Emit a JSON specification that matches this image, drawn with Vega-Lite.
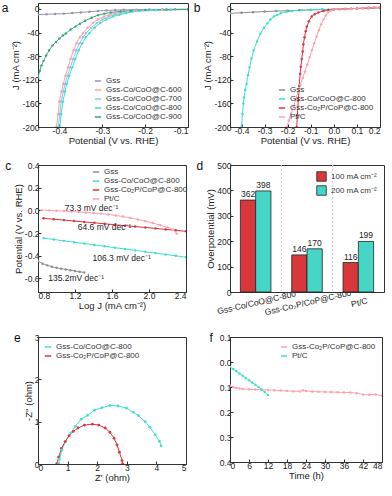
{
 "$schema": "https://vega.github.io/schema/vega-lite/v6.json",
 "padding": {"left": 1, "top": 1, "right": 2, "bottom": 1},
 "background": "white",
 "datasets": {
  "a": [
   {"s":"Gss","x":-0.45,"y":-9.5},{"s":"Gss","x":-0.43,"y":-9},{"s":"Gss","x":-0.41,"y":-8.5},{"s":"Gss","x":-0.39,"y":-8},{"s":"Gss","x":-0.37,"y":-7},{"s":"Gss","x":-0.35,"y":-6},{"s":"Gss","x":-0.33,"y":-4.8},{"s":"Gss","x":-0.31,"y":-3.5},{"s":"Gss","x":-0.29,"y":-2.7},{"s":"Gss","x":-0.27,"y":-2},{"s":"Gss","x":-0.25,"y":-1.6},{"s":"Gss","x":-0.22,"y":-1.2},{"s":"Gss","x":-0.19,"y":-1},{"s":"Gss","x":-0.16,"y":-0.8},{"s":"Gss","x":-0.13,"y":-0.6},{"s":"Gss","x":-0.1,"y":-0.5},
   {"s":"Gss-Co/CoO@C-600","x":-0.407,"y":-200},{"s":"Gss-Co/CoO@C-600","x":-0.403,"y":-178},{"s":"Gss-Co/CoO@C-600","x":-0.4,"y":-157},{"s":"Gss-Co/CoO@C-600","x":-0.395,"y":-140},{"s":"Gss-Co/CoO@C-600","x":-0.391,"y":-127},{"s":"Gss-Co/CoO@C-600","x":-0.386,"y":-113},{"s":"Gss-Co/CoO@C-600","x":-0.38,"y":-99},{"s":"Gss-Co/CoO@C-600","x":-0.374,"y":-85},{"s":"Gss-Co/CoO@C-600","x":-0.367,"y":-70},{"s":"Gss-Co/CoO@C-600","x":-0.36,"y":-58},{"s":"Gss-Co/CoO@C-600","x":-0.352,"y":-48},{"s":"Gss-Co/CoO@C-600","x":-0.345,"y":-41},{"s":"Gss-Co/CoO@C-600","x":-0.334,"y":-32},{"s":"Gss-Co/CoO@C-600","x":-0.322,"y":-24},{"s":"Gss-Co/CoO@C-600","x":-0.31,"y":-18},{"s":"Gss-Co/CoO@C-600","x":-0.296,"y":-13},{"s":"Gss-Co/CoO@C-600","x":-0.283,"y":-10},{"s":"Gss-Co/CoO@C-600","x":-0.27,"y":-7.4},{"s":"Gss-Co/CoO@C-600","x":-0.255,"y":-5},{"s":"Gss-Co/CoO@C-600","x":-0.24,"y":-3.5},{"s":"Gss-Co/CoO@C-600","x":-0.22,"y":-2.5},{"s":"Gss-Co/CoO@C-600","x":-0.2,"y":-2},{"s":"Gss-Co/CoO@C-600","x":-0.16,"y":-1.5},{"s":"Gss-Co/CoO@C-600","x":-0.1,"y":-1},
   {"s":"Gss-Co/CoO@C-700","x":-0.403,"y":-200},{"s":"Gss-Co/CoO@C-700","x":-0.399,"y":-178},{"s":"Gss-Co/CoO@C-700","x":-0.396,"y":-157},{"s":"Gss-Co/CoO@C-700","x":-0.391,"y":-140},{"s":"Gss-Co/CoO@C-700","x":-0.387,"y":-127},{"s":"Gss-Co/CoO@C-700","x":-0.381,"y":-113},{"s":"Gss-Co/CoO@C-700","x":-0.375,"y":-99},{"s":"Gss-Co/CoO@C-700","x":-0.368,"y":-85},{"s":"Gss-Co/CoO@C-700","x":-0.361,"y":-70},{"s":"Gss-Co/CoO@C-700","x":-0.353,"y":-58},{"s":"Gss-Co/CoO@C-700","x":-0.345,"y":-48},{"s":"Gss-Co/CoO@C-700","x":-0.338,"y":-41},{"s":"Gss-Co/CoO@C-700","x":-0.326,"y":-32},{"s":"Gss-Co/CoO@C-700","x":-0.313,"y":-24},{"s":"Gss-Co/CoO@C-700","x":-0.3,"y":-18},{"s":"Gss-Co/CoO@C-700","x":-0.285,"y":-13},{"s":"Gss-Co/CoO@C-700","x":-0.271,"y":-10},{"s":"Gss-Co/CoO@C-700","x":-0.257,"y":-7.4},{"s":"Gss-Co/CoO@C-700","x":-0.242,"y":-5},{"s":"Gss-Co/CoO@C-700","x":-0.226,"y":-3.5},{"s":"Gss-Co/CoO@C-700","x":-0.205,"y":-2.5},{"s":"Gss-Co/CoO@C-700","x":-0.185,"y":-2},{"s":"Gss-Co/CoO@C-700","x":-0.15,"y":-1.5},{"s":"Gss-Co/CoO@C-700","x":-0.1,"y":-1},
   {"s":"Gss-Co/CoO@C-800","x":-0.399,"y":-200},{"s":"Gss-Co/CoO@C-800","x":-0.396,"y":-178},{"s":"Gss-Co/CoO@C-800","x":-0.392,"y":-157},{"s":"Gss-Co/CoO@C-800","x":-0.387,"y":-140},{"s":"Gss-Co/CoO@C-800","x":-0.383,"y":-127},{"s":"Gss-Co/CoO@C-800","x":-0.377,"y":-113},{"s":"Gss-Co/CoO@C-800","x":-0.37,"y":-99},{"s":"Gss-Co/CoO@C-800","x":-0.363,"y":-85},{"s":"Gss-Co/CoO@C-800","x":-0.355,"y":-70},{"s":"Gss-Co/CoO@C-800","x":-0.347,"y":-58},{"s":"Gss-Co/CoO@C-800","x":-0.338,"y":-48},{"s":"Gss-Co/CoO@C-800","x":-0.33,"y":-41},{"s":"Gss-Co/CoO@C-800","x":-0.318,"y":-32},{"s":"Gss-Co/CoO@C-800","x":-0.305,"y":-24},{"s":"Gss-Co/CoO@C-800","x":-0.291,"y":-18},{"s":"Gss-Co/CoO@C-800","x":-0.275,"y":-13},{"s":"Gss-Co/CoO@C-800","x":-0.26,"y":-10},{"s":"Gss-Co/CoO@C-800","x":-0.245,"y":-7.4},{"s":"Gss-Co/CoO@C-800","x":-0.23,"y":-5},{"s":"Gss-Co/CoO@C-800","x":-0.213,"y":-3.5},{"s":"Gss-Co/CoO@C-800","x":-0.195,"y":-2.5},{"s":"Gss-Co/CoO@C-800","x":-0.175,"y":-2},{"s":"Gss-Co/CoO@C-800","x":-0.14,"y":-1.5},{"s":"Gss-Co/CoO@C-800","x":-0.1,"y":-1},
   {"s":"Gss-Co/CoO@C-900","x":-0.45,"y":-116},{"s":"Gss-Co/CoO@C-900","x":-0.446,"y":-105},{"s":"Gss-Co/CoO@C-900","x":-0.442,"y":-96},{"s":"Gss-Co/CoO@C-900","x":-0.437,"y":-88},{"s":"Gss-Co/CoO@C-900","x":-0.431,"y":-79},{"s":"Gss-Co/CoO@C-900","x":-0.424,"y":-70},{"s":"Gss-Co/CoO@C-900","x":-0.416,"y":-62},{"s":"Gss-Co/CoO@C-900","x":-0.408,"y":-56},{"s":"Gss-Co/CoO@C-900","x":-0.4,"y":-50},{"s":"Gss-Co/CoO@C-900","x":-0.392,"y":-45},{"s":"Gss-Co/CoO@C-900","x":-0.385,"y":-41.5},{"s":"Gss-Co/CoO@C-900","x":-0.374,"y":-35},{"s":"Gss-Co/CoO@C-900","x":-0.363,"y":-30},{"s":"Gss-Co/CoO@C-900","x":-0.352,"y":-25},{"s":"Gss-Co/CoO@C-900","x":-0.34,"y":-20},{"s":"Gss-Co/CoO@C-900","x":-0.325,"y":-15},{"s":"Gss-Co/CoO@C-900","x":-0.31,"y":-10.5},{"s":"Gss-Co/CoO@C-900","x":-0.295,"y":-8},{"s":"Gss-Co/CoO@C-900","x":-0.28,"y":-6},{"s":"Gss-Co/CoO@C-900","x":-0.257,"y":-4},{"s":"Gss-Co/CoO@C-900","x":-0.234,"y":-3},{"s":"Gss-Co/CoO@C-900","x":-0.2,"y":-2},{"s":"Gss-Co/CoO@C-900","x":-0.15,"y":-1.2},{"s":"Gss-Co/CoO@C-900","x":-0.1,"y":-0.8}
  ],
  "b": [
   {"s":"Gss","x":-0.45,"y":-7.5},{"s":"Gss","x":-0.4,"y":-6.5},{"s":"Gss","x":-0.35,"y":-5.5},{"s":"Gss","x":-0.3,"y":-4.5},{"s":"Gss","x":-0.25,"y":-3.7},{"s":"Gss","x":-0.2,"y":-3},{"s":"Gss","x":-0.15,"y":-2.3},{"s":"Gss","x":-0.1,"y":-1.7},{"s":"Gss","x":-0.05,"y":-1},{"s":"Gss","x":0,"y":-0.5},{"s":"Gss","x":0.05,"y":0},{"s":"Gss","x":0.1,"y":0.5},{"s":"Gss","x":0.15,"y":1},{"s":"Gss","x":0.2,"y":1.5},
   {"s":"Gss-Co/CoO@C-800","x":-0.4,"y":-200},{"s":"Gss-Co/CoO@C-800","x":-0.396,"y":-178},{"s":"Gss-Co/CoO@C-800","x":-0.392,"y":-160},{"s":"Gss-Co/CoO@C-800","x":-0.389,"y":-150},{"s":"Gss-Co/CoO@C-800","x":-0.384,"y":-137},{"s":"Gss-Co/CoO@C-800","x":-0.378,"y":-127},{"s":"Gss-Co/CoO@C-800","x":-0.372,"y":-112},{"s":"Gss-Co/CoO@C-800","x":-0.365,"y":-99},{"s":"Gss-Co/CoO@C-800","x":-0.357,"y":-84},{"s":"Gss-Co/CoO@C-800","x":-0.347,"y":-70},{"s":"Gss-Co/CoO@C-800","x":-0.333,"y":-55},{"s":"Gss-Co/CoO@C-800","x":-0.318,"y":-42},{"s":"Gss-Co/CoO@C-800","x":-0.303,"y":-32},{"s":"Gss-Co/CoO@C-800","x":-0.289,"y":-24.5},{"s":"Gss-Co/CoO@C-800","x":-0.275,"y":-18},{"s":"Gss-Co/CoO@C-800","x":-0.26,"y":-13},{"s":"Gss-Co/CoO@C-800","x":-0.245,"y":-10},{"s":"Gss-Co/CoO@C-800","x":-0.23,"y":-7.4},{"s":"Gss-Co/CoO@C-800","x":-0.205,"y":-5},{"s":"Gss-Co/CoO@C-800","x":-0.18,"y":-3.4},{"s":"Gss-Co/CoO@C-800","x":-0.14,"y":-2},{"s":"Gss-Co/CoO@C-800","x":-0.1,"y":-1.5},{"s":"Gss-Co/CoO@C-800","x":-0.05,"y":-1},{"s":"Gss-Co/CoO@C-800","x":0,"y":-0.5},
   {"s":"Gss-Co₂P/CoP@C-800","x":-0.161,"y":-200},{"s":"Gss-Co₂P/CoP@C-800","x":-0.158,"y":-180},{"s":"Gss-Co₂P/CoP@C-800","x":-0.154,"y":-155},{"s":"Gss-Co₂P/CoP@C-800","x":-0.15,"y":-130},{"s":"Gss-Co₂P/CoP@C-800","x":-0.146,"y":-110},{"s":"Gss-Co₂P/CoP@C-800","x":-0.143,"y":-98},{"s":"Gss-Co₂P/CoP@C-800","x":-0.139,"y":-85},{"s":"Gss-Co₂P/CoP@C-800","x":-0.135,"y":-72},{"s":"Gss-Co₂P/CoP@C-800","x":-0.132,"y":-60},{"s":"Gss-Co₂P/CoP@C-800","x":-0.127,"y":-48},{"s":"Gss-Co₂P/CoP@C-800","x":-0.122,"y":-38},{"s":"Gss-Co₂P/CoP@C-800","x":-0.117,"y":-30},{"s":"Gss-Co₂P/CoP@C-800","x":-0.108,"y":-21},{"s":"Gss-Co₂P/CoP@C-800","x":-0.096,"y":-13},{"s":"Gss-Co₂P/CoP@C-800","x":-0.083,"y":-9},{"s":"Gss-Co₂P/CoP@C-800","x":-0.067,"y":-6},{"s":"Gss-Co₂P/CoP@C-800","x":-0.045,"y":-3.5},{"s":"Gss-Co₂P/CoP@C-800","x":-0.023,"y":-2},{"s":"Gss-Co₂P/CoP@C-800","x":0,"y":-1},{"s":"Gss-Co₂P/CoP@C-800","x":0.025,"y":-0.4},{"s":"Gss-Co₂P/CoP@C-800","x":0.05,"y":0},{"s":"Gss-Co₂P/CoP@C-800","x":0.075,"y":0.4},{"s":"Gss-Co₂P/CoP@C-800","x":0.1,"y":0.8},{"s":"Gss-Co₂P/CoP@C-800","x":0.125,"y":1.3},{"s":"Gss-Co₂P/CoP@C-800","x":0.15,"y":1.8},{"s":"Gss-Co₂P/CoP@C-800","x":0.175,"y":2.4},{"s":"Gss-Co₂P/CoP@C-800","x":0.2,"y":3},
   {"s":"Pt/C","x":-0.204,"y":-200},{"s":"Pt/C","x":-0.195,"y":-189},{"s":"Pt/C","x":-0.185,"y":-177},{"s":"Pt/C","x":-0.175,"y":-165},{"s":"Pt/C","x":-0.165,"y":-153},{"s":"Pt/C","x":-0.155,"y":-141},{"s":"Pt/C","x":-0.145,"y":-129},{"s":"Pt/C","x":-0.135,"y":-117},{"s":"Pt/C","x":-0.125,"y":-106},{"s":"Pt/C","x":-0.115,"y":-94},{"s":"Pt/C","x":-0.105,"y":-82},{"s":"Pt/C","x":-0.095,"y":-70},{"s":"Pt/C","x":-0.085,"y":-58},{"s":"Pt/C","x":-0.075,"y":-47},{"s":"Pt/C","x":-0.065,"y":-36},{"s":"Pt/C","x":-0.055,"y":-26},{"s":"Pt/C","x":-0.045,"y":-18},{"s":"Pt/C","x":-0.035,"y":-11},{"s":"Pt/C","x":-0.025,"y":-6},{"s":"Pt/C","x":-0.015,"y":-3},{"s":"Pt/C","x":0,"y":-1},{"s":"Pt/C","x":0.025,"y":-0.3},{"s":"Pt/C","x":0.05,"y":0},{"s":"Pt/C","x":0.075,"y":0.4},{"s":"Pt/C","x":0.1,"y":0.8},{"s":"Pt/C","x":0.125,"y":1.3},{"s":"Pt/C","x":0.15,"y":1.8},{"s":"Pt/C","x":0.175,"y":2.3},{"s":"Pt/C","x":0.2,"y":2.8}
  ],
  "c": [
   {"s":"Gss","x":0.8,"y":-0.447},{"s":"Gss","x":0.85,"y":-0.47},{"s":"Gss","x":0.9,"y":-0.485},{"s":"Gss","x":0.95,"y":-0.497},{"s":"Gss","x":1.0,"y":-0.506},{"s":"Gss","x":1.05,"y":-0.514},{"s":"Gss","x":1.1,"y":-0.521},{"s":"Gss","x":1.15,"y":-0.528},{"s":"Gss","x":1.2,"y":-0.535},{"s":"Gss","x":1.25,"y":-0.542},{"s":"Gss","x":1.3,"y":-0.548},
   {"s":"Gss-Co/CoO@C-800","x":0.86,"y":-0.245},{"s":"Gss-Co/CoO@C-800","x":0.97,"y":-0.257},{"s":"Gss-Co/CoO@C-800","x":1.08,"y":-0.269},{"s":"Gss-Co/CoO@C-800","x":1.19,"y":-0.281},{"s":"Gss-Co/CoO@C-800","x":1.3,"y":-0.293},{"s":"Gss-Co/CoO@C-800","x":1.41,"y":-0.305},{"s":"Gss-Co/CoO@C-800","x":1.52,"y":-0.317},{"s":"Gss-Co/CoO@C-800","x":1.63,"y":-0.329},{"s":"Gss-Co/CoO@C-800","x":1.74,"y":-0.341},{"s":"Gss-Co/CoO@C-800","x":1.85,"y":-0.353},{"s":"Gss-Co/CoO@C-800","x":1.96,"y":-0.365},{"s":"Gss-Co/CoO@C-800","x":2.07,"y":-0.377},{"s":"Gss-Co/CoO@C-800","x":2.18,"y":-0.389},{"s":"Gss-Co/CoO@C-800","x":2.29,"y":-0.401},{"s":"Gss-Co/CoO@C-800","x":2.4,"y":-0.413},
   {"s":"Gss-Co₂P/CoP@C-800","x":0.86,"y":-0.07},{"s":"Gss-Co₂P/CoP@C-800","x":0.97,"y":-0.078},{"s":"Gss-Co₂P/CoP@C-800","x":1.08,"y":-0.086},{"s":"Gss-Co₂P/CoP@C-800","x":1.19,"y":-0.094},{"s":"Gss-Co₂P/CoP@C-800","x":1.3,"y":-0.102},{"s":"Gss-Co₂P/CoP@C-800","x":1.41,"y":-0.11},{"s":"Gss-Co₂P/CoP@C-800","x":1.52,"y":-0.118},{"s":"Gss-Co₂P/CoP@C-800","x":1.63,"y":-0.127},{"s":"Gss-Co₂P/CoP@C-800","x":1.74,"y":-0.135},{"s":"Gss-Co₂P/CoP@C-800","x":1.85,"y":-0.143},{"s":"Gss-Co₂P/CoP@C-800","x":1.96,"y":-0.151},{"s":"Gss-Co₂P/CoP@C-800","x":2.07,"y":-0.159},{"s":"Gss-Co₂P/CoP@C-800","x":2.18,"y":-0.168},{"s":"Gss-Co₂P/CoP@C-800","x":2.29,"y":-0.176},{"s":"Gss-Co₂P/CoP@C-800","x":2.4,"y":-0.185},
   {"s":"Pt/C","x":0.84,"y":0.002},{"s":"Pt/C","x":0.92,"y":0.0},{"s":"Pt/C","x":1.0,"y":-0.003},{"s":"Pt/C","x":1.08,"y":-0.006},{"s":"Pt/C","x":1.16,"y":-0.01},{"s":"Pt/C","x":1.24,"y":-0.014},{"s":"Pt/C","x":1.32,"y":-0.018},{"s":"Pt/C","x":1.4,"y":-0.023},{"s":"Pt/C","x":1.48,"y":-0.029},{"s":"Pt/C","x":1.56,"y":-0.036},{"s":"Pt/C","x":1.64,"y":-0.045},{"s":"Pt/C","x":1.72,"y":-0.055},{"s":"Pt/C","x":1.8,"y":-0.067},{"s":"Pt/C","x":1.88,"y":-0.08},{"s":"Pt/C","x":1.96,"y":-0.095},{"s":"Pt/C","x":2.04,"y":-0.112},{"s":"Pt/C","x":2.12,"y":-0.13},{"s":"Pt/C","x":2.2,"y":-0.15},{"s":"Pt/C","x":2.26,"y":-0.17},{"s":"Pt/C","x":2.3,"y":-0.205}
  ],
  "cAnn": [
   {"x":1.09,"y":0.02,"t":"73.3 mV dec⁻¹"},
   {"x":1.23,"y":-0.15,"t":"64.6 mV dec⁻¹"},
   {"x":1.39,"y":-0.42,"t":"106.3 mV dec⁻¹"},
   {"x":0.91,"y":-0.595,"t":"135.2mV dec⁻¹"}
  ],
  "d": [
   {"cat":"Gss-Co/CoO@C-800","j":"100 mA cm⁻²","v":362},
   {"cat":"Gss-Co/CoO@C-800","j":"200 mA cm⁻²","v":398},
   {"cat":"Gss-Co₂P/CoP@C-800","j":"100 mA cm⁻²","v":146},
   {"cat":"Gss-Co₂P/CoP@C-800","j":"200 mA cm⁻²","v":170},
   {"cat":"Pt/C","j":"100 mA cm⁻²","v":116},
   {"cat":"Pt/C","j":"200 mA cm⁻²","v":199}
  ],
  "dSep": [{"cat":"Gss-Co₂P/CoP@C-800"},{"cat":"Pt/C"}],
  "e": [
   {"s":"Gss-Co/CoO@C-800","x":0.7,"y":0},{"s":"Gss-Co/CoO@C-800","x":0.72,"y":0.12},{"s":"Gss-Co/CoO@C-800","x":0.81,"y":0.33},{"s":"Gss-Co/CoO@C-800","x":0.92,"y":0.53},{"s":"Gss-Co/CoO@C-800","x":1.11,"y":0.73},{"s":"Gss-Co/CoO@C-800","x":1.26,"y":0.89},{"s":"Gss-Co/CoO@C-800","x":1.46,"y":1.06},{"s":"Gss-Co/CoO@C-800","x":1.67,"y":1.15},{"s":"Gss-Co/CoO@C-800","x":1.91,"y":1.27},{"s":"Gss-Co/CoO@C-800","x":2.16,"y":1.33},{"s":"Gss-Co/CoO@C-800","x":2.43,"y":1.38},{"s":"Gss-Co/CoO@C-800","x":2.7,"y":1.37},{"s":"Gss-Co/CoO@C-800","x":2.99,"y":1.32},{"s":"Gss-Co/CoO@C-800","x":3.22,"y":1.22},{"s":"Gss-Co/CoO@C-800","x":3.4,"y":1.14},{"s":"Gss-Co/CoO@C-800","x":3.62,"y":1.0},{"s":"Gss-Co/CoO@C-800","x":3.78,"y":0.87},{"s":"Gss-Co/CoO@C-800","x":3.96,"y":0.69},{"s":"Gss-Co/CoO@C-800","x":4.1,"y":0.54},{"s":"Gss-Co/CoO@C-800","x":4.16,"y":0.43},
   {"s":"Gss-Co₂P/CoP@C-800","x":0.63,"y":0},{"s":"Gss-Co₂P/CoP@C-800","x":0.7,"y":0.16},{"s":"Gss-Co₂P/CoP@C-800","x":0.79,"y":0.37},{"s":"Gss-Co₂P/CoP@C-800","x":0.92,"y":0.53},{"s":"Gss-Co₂P/CoP@C-800","x":1.05,"y":0.67},{"s":"Gss-Co₂P/CoP@C-800","x":1.19,"y":0.77},{"s":"Gss-Co₂P/CoP@C-800","x":1.35,"y":0.85},{"s":"Gss-Co₂P/CoP@C-800","x":1.57,"y":0.92},{"s":"Gss-Co₂P/CoP@C-800","x":1.84,"y":0.94},{"s":"Gss-Co₂P/CoP@C-800","x":2.05,"y":0.92},{"s":"Gss-Co₂P/CoP@C-800","x":2.27,"y":0.85},{"s":"Gss-Co₂P/CoP@C-800","x":2.43,"y":0.75},{"s":"Gss-Co₂P/CoP@C-800","x":2.57,"y":0.61},{"s":"Gss-Co₂P/CoP@C-800","x":2.67,"y":0.45},{"s":"Gss-Co₂P/CoP@C-800","x":2.75,"y":0.28},{"s":"Gss-Co₂P/CoP@C-800","x":2.84,"y":0.08},{"s":"Gss-Co₂P/CoP@C-800","x":2.86,"y":0}
  ],
  "f": [
   {"s":"Gss-Co₂P/CoP@C-800","x":0,"y":0.095},{"s":"Gss-Co₂P/CoP@C-800","x":1,"y":0.1},{"s":"Gss-Co₂P/CoP@C-800","x":2,"y":0.104},{"s":"Gss-Co₂P/CoP@C-800","x":3,"y":0.106},{"s":"Gss-Co₂P/CoP@C-800","x":4,"y":0.108},{"s":"Gss-Co₂P/CoP@C-800","x":6,"y":0.109},{"s":"Gss-Co₂P/CoP@C-800","x":8,"y":0.11},{"s":"Gss-Co₂P/CoP@C-800","x":10,"y":0.111},{"s":"Gss-Co₂P/CoP@C-800","x":12,"y":0.112},{"s":"Gss-Co₂P/CoP@C-800","x":14,"y":0.113},{"s":"Gss-Co₂P/CoP@C-800","x":16,"y":0.114},{"s":"Gss-Co₂P/CoP@C-800","x":18,"y":0.116},{"s":"Gss-Co₂P/CoP@C-800","x":20,"y":0.117},{"s":"Gss-Co₂P/CoP@C-800","x":22,"y":0.118},{"s":"Gss-Co₂P/CoP@C-800","x":23,"y":0.113},{"s":"Gss-Co₂P/CoP@C-800","x":24,"y":0.116},{"s":"Gss-Co₂P/CoP@C-800","x":26,"y":0.118},{"s":"Gss-Co₂P/CoP@C-800","x":28,"y":0.119},{"s":"Gss-Co₂P/CoP@C-800","x":30,"y":0.12},{"s":"Gss-Co₂P/CoP@C-800","x":32,"y":0.12},{"s":"Gss-Co₂P/CoP@C-800","x":34,"y":0.121},{"s":"Gss-Co₂P/CoP@C-800","x":36,"y":0.122},{"s":"Gss-Co₂P/CoP@C-800","x":38,"y":0.122},{"s":"Gss-Co₂P/CoP@C-800","x":40,"y":0.125},{"s":"Gss-Co₂P/CoP@C-800","x":42,"y":0.13},{"s":"Gss-Co₂P/CoP@C-800","x":44,"y":0.131},{"s":"Gss-Co₂P/CoP@C-800","x":46,"y":0.13},{"s":"Gss-Co₂P/CoP@C-800","x":48,"y":0.135},
   {"s":"Pt/C","x":0,"y":0.02},{"s":"Pt/C","x":1,"y":0.028},{"s":"Pt/C","x":2,"y":0.037},{"s":"Pt/C","x":3,"y":0.046},{"s":"Pt/C","x":4,"y":0.055},{"s":"Pt/C","x":5,"y":0.064},{"s":"Pt/C","x":6,"y":0.073},{"s":"Pt/C","x":7,"y":0.082},{"s":"Pt/C","x":8,"y":0.091},{"s":"Pt/C","x":9,"y":0.1},{"s":"Pt/C","x":10,"y":0.11},{"s":"Pt/C","x":11,"y":0.12},{"s":"Pt/C","x":12,"y":0.132}
  ]
 },
 "spacing": 14,
 "align": "none",
 "resolve": {"scale": {"color": "independent", "x": "independent", "y": "independent"}, "legend": {"color": "independent"}},
 "vconcat": [
  {"vconcat": [
  {"hconcat": [
   {"width": 150, "height": 124, "title": {"text": "a"},
    "data": {"name": "a"},
    "mark": {"type": "line", "strokeWidth": 1, "clip": true, "point": {"filled": true, "size": 6}},
    "encoding": {
     "x": {"field": "x", "type": "quantitative", "scale": {"domain": [-0.45, -0.1], "nice": false}, "axis": {"title": "Potential (V vs. RHE)", "values": [-0.4,-0.3,-0.2,-0.1], "format": ".1f"}},
     "y": {"field": "y", "type": "quantitative", "scale": {"domain": [-200, 10], "nice": false}, "axis": {"title": "J (mA cm⁻²)", "values": [0,-40,-80,-120,-160,-200]}},
     "color": {"field": "s", "type": "nominal", "scale": {"domain": ["Gss","Gss-Co/CoO@C-600","Gss-Co/CoO@C-700","Gss-Co/CoO@C-800","Gss-Co/CoO@C-900"], "range": ["#9a94ad","#ff9ea6","#8cc6ee","#3fe0cc","#3aa87c"]}, "legend": {"title": null, "orient": "bottom-right", "symbolType": "stroke"}}
    }},
   {"width": 150, "height": 124, "title": {"text": "b"},
    "data": {"name": "b"},
    "mark": {"type": "line", "strokeWidth": 1, "clip": true, "point": {"filled": true, "size": 6}},
    "encoding": {
     "x": {"field": "x", "type": "quantitative", "scale": {"domain": [-0.45, 0.2], "nice": false}, "axis": {"title": "Potential (V vs. RHE)", "values": [-0.4,-0.3,-0.2,-0.1,0,0.1,0.2], "format": ".1f"}},
     "y": {"field": "y", "type": "quantitative", "scale": {"domain": [-200, 10], "nice": false}, "axis": {"title": "J (mA cm⁻²)", "values": [0,-40,-80,-120,-160,-200]}},
     "color": {"field": "s", "type": "nominal", "scale": {"domain": ["Gss","Gss-Co/CoO@C-800","Gss-Co₂P/CoP@C-800","Pt/C"], "range": ["#8e8e8e","#3fe0cc","#e0333d","#ffa0b0"]}, "legend": {"title": null, "orient": "bottom-right", "symbolType": "stroke"}}
    }}
  ], "spacing": 4, "align": "none",
  "resolve": {"scale": {"color": "independent", "x": "independent", "y": "independent"}, "legend": {"color": "independent"}}},
  {"hconcat": [
   {"width": 148, "height": 127, "title": {"text": "c"},
    "layer": [
     {"data": {"name": "c"},
      "mark": {"type": "line", "strokeWidth": 1, "clip": true, "point": {"filled": true, "size": 6}},
      "encoding": {
       "x": {"field": "x", "type": "quantitative", "scale": {"domain": [0.8, 2.4], "nice": false}, "axis": {"title": "Log J (mA cm⁻²)", "values": [0.8,1.2,1.6,2.0,2.4], "format": ".1f", "labelOverlap": false}},
       "y": {"field": "y", "type": "quantitative", "scale": {"domain": [-0.72, 0.4], "nice": false}, "axis": {"title": "Potential (V vs. RHE)", "values": [-0.6,-0.4,-0.2,0,0.2,0.4], "format": ".1f", "labelOverlap": false}},
       "color": {"field": "s", "type": "nominal", "scale": {"domain": ["Gss","Gss-Co/CoO@C-800","Gss-Co₂P/CoP@C-800","Pt/C"], "range": ["#8e8e8e","#3fe0cc","#e0333d","#ffa0b0"]}, "legend": {"title": null, "orient": "none", "legendX": 52, "legendY": 1, "symbolType": "stroke"}}
      }},
     {"data": {"name": "cAnn"},
      "mark": {"type": "text", "align": "left", "baseline": "middle", "fontSize": 8.5, "color": "#222"},
      "encoding": {
       "x": {"field": "x", "type": "quantitative", "scale": {"domain": [0.8, 2.4], "nice": false}, "axis": {"title": "Log J (mA cm⁻²)", "values": [0.8,1.2,1.6,2.0,2.4], "format": ".1f", "labelOverlap": false}},
       "y": {"field": "y", "type": "quantitative", "scale": {"domain": [-0.72, 0.4], "nice": false}, "axis": {"title": "Potential (V vs. RHE)", "values": [-0.6,-0.4,-0.2,0,0.2,0.4], "format": ".1f", "labelOverlap": false}},
       "text": {"field": "t", "type": "nominal"}
      }}
    ]},
   {"width": 154, "height": 127, "title": {"text": "d"},
    "layer": [
     {"data": {"name": "dSep"},
      "mark": {"type": "rule", "strokeDash": [2, 2], "color": "#c5cde0", "strokeWidth": 1},
      "encoding": {
       "x": {"field": "cat", "type": "nominal", "bandPosition": 0}
      }},
     {"data": {"name": "d"},
      "mark": {"type": "bar", "stroke": "#222", "strokeWidth": 0.8},
      "encoding": {
       "x": {"field": "cat", "type": "nominal", "sort": null, "scale": {"domain": ["Gss-Co/CoO@C-800","Gss-Co₂P/CoP@C-800","Pt/C"], "paddingInner": 0, "paddingOuter": 0}, "axis": {"title": null, "labelAngle": -13, "labelAlign": "center", "labelBaseline": "top", "labelPadding": 6, "labelFontSize": 8.5, "labelOverlap": false, "labelBound": false, "labelLimit": 0, "ticks": false, "encode": {"labels": {"update": {"dy": {"signal": "datum.value === 'Gss-Co₂P/CoP@C-800' ? 7 : 0"}}}}}},
       "xOffset": {"field": "j", "type": "nominal", "scale": {"paddingOuter": 0.68, "paddingInner": 0}},
       "y": {"field": "v", "type": "quantitative", "scale": {"domain": [0, 500], "nice": false}, "axis": {"title": "Overpotential (mV)", "values": [0,100,200,300,400,500], "labelOverlap": false}},
       "color": {"field": "j", "type": "nominal", "scale": {"domain": ["100 mA cm⁻²","200 mA cm⁻²"], "range": ["#d8383c","#46d6c6"]}, "legend": {"title": null, "orient": "top-right", "symbolType": "square", "symbolStrokeColor": "#222", "symbolStrokeWidth": 0.8, "symbolSize": 90, "labelFontSize": 8}}
      }},
     {"data": {"name": "d"},
      "mark": {"type": "text", "baseline": "bottom", "dy": -1, "fontSize": 8.5, "color": "#222"},
      "encoding": {
       "x": {"field": "cat", "type": "nominal"},
       "xOffset": {"field": "j", "type": "nominal"},
       "y": {"field": "v", "type": "quantitative", "scale": {"domain": [0, 500], "nice": false}, "axis": {"title": "Overpotential (mV)", "values": [0,100,200,300,400,500], "labelOverlap": false}},
       "text": {"field": "v", "type": "quantitative"}
      }}
    ]}
  ], "spacing": 4, "align": "none",
  "resolve": {"scale": {"color": "independent", "x": "independent", "y": "independent"}, "legend": {"color": "independent"}}}
  ], "spacing": 13, "align": "none",
  "resolve": {"scale": {"color": "independent", "x": "independent", "y": "independent"}, "legend": {"color": "independent"}}},
  {"hconcat": [
   {"width": 148, "height": 127, "title": {"text": "e"},
    "data": {"name": "e"},
    "mark": {"type": "line", "strokeWidth": 1, "clip": true, "point": {"filled": true, "size": 8}},
    "encoding": {
     "x": {"field": "x", "type": "quantitative", "scale": {"domain": [0, 5], "nice": false}, "axis": {"title": "Z' (ohm)", "values": [0,1,2,3,4,5]}},
     "y": {"field": "y", "type": "quantitative", "scale": {"domain": [0, 3], "nice": false}, "axis": {"title": "-Z'' (ohm)", "values": [0,1,2,3]}},
     "order": {"field": "x", "type": "quantitative"},
     "color": {"field": "s", "type": "nominal", "scale": {"domain": ["Gss-Co/CoO@C-800","Gss-Co₂P/CoP@C-800"], "range": ["#3fe0cc","#e0333d"]}, "legend": {"title": null, "orient": "top-left", "symbolType": "stroke"}}
    }},
   {"width": 152, "height": 125, "title": {"text": "f", "offset": 3},
    "data": {"name": "f"},
    "mark": {"type": "line", "strokeWidth": 1, "clip": true, "point": {"filled": true, "size": 6}},
    "encoding": {
     "x": {"field": "x", "type": "quantitative", "scale": {"domain": [0, 48], "nice": false}, "axis": {"title": "Time (h)", "values": [0,6,12,18,24,30,36,42,48]}},
     "y": {"field": "y", "type": "quantitative", "scale": {"domain": [-0.1, 0.4], "nice": false, "reverse": true}, "axis": {"title": null, "values": [-0.1,0,0.1,0.2,0.3,0.4], "labelExpr": "format(abs(datum.value), '.1f')"}},
     "color": {"field": "s", "type": "nominal", "scale": {"domain": ["Gss-Co₂P/CoP@C-800","Pt/C"], "range": ["#ffa0b0","#3fe0cc"]}, "legend": {"title": null, "orient": "top-right", "symbolType": "stroke"}}
    }}
  ], "spacing": 22, "align": "none",
  "resolve": {"scale": {"color": "independent", "x": "independent", "y": "independent"}, "legend": {"color": "independent"}}}
 ],
 "config": {
  "font": "Liberation Sans",
  "locale": {"number": {"decimal": ".", "thousands": ",", "grouping": [3], "currency": ["", ""], "minus": "-"}},
  "view": {"stroke": "#333", "strokeWidth": 1},
  "axis": {"grid": false, "labelFontSize": 8.5, "titleFontSize": 9.5, "titleFontWeight": "normal", "tickSize": -3, "labelPadding": 2, "titlePadding": 1, "labelOverlap": false, "domainColor": "#333", "tickColor": "#333", "labelColor": "#222", "titleColor": "#222"},
  "legend": {"labelFontSize": 8, "symbolSize": 40, "symbolStrokeWidth": 1.5, "rowPadding": 1, "padding": 2, "offset": 4, "labelColor": "#333"},
  "title": {"fontSize": 12, "fontWeight": "normal", "orient": "left", "anchor": "end", "angle": 0, "frame": "bounds", "offset": -4, "baseline": "top", "color": "#111"}
 }
}
